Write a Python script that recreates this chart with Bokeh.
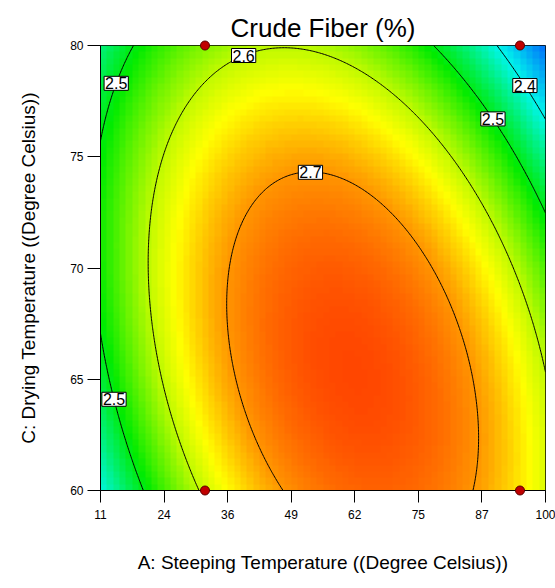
import numpy as np
from bokeh.plotting import figure
from bokeh.models import LinearColorMapper, FixedTicker
from bokeh.core.properties import value
from bokeh.embed import file_html
from bokeh.resources import INLINE

# Factor ranges in actual units
a_low, a_high = 11.0, 100.0   # A: Steeping Temperature
c_low, c_high = 60.0, 80.0    # C: Drying Temperature

x_tick_labels = ["11", "24", "36", "49", "62", "75", "87", "100"]
y_tick_values = [60, 65, 70, 75, 80]

# Quadratic response model for Crude Fiber (%), coded factors in [-1, 1]
b0 = 2.7445
bA = 0.015
bC = -0.0675
bAA = -0.215
bCC = -0.086
bAC = -0.0913

contour_levels = [2.4, 2.5, 2.6, 2.7]

# Design points
design_A = [31.9, 31.9, 94.9, 94.9]
design_C = [60.0, 80.0, 60.0, 80.0]

# Contour labels: level, drying temperature where it sits, branch (-1 left, +1 right, 0 apex)
label_levels = [2.5, 2.6, 2.7, 2.5, 2.5, 2.4]
label_anchor_C = [78.3, 79.55, 74.3, 64.1, 76.7, 78.2]
label_branch = [-1, -1, 0, -1, 1, 1]


def code_a(a):
    return (np.asarray(a) - (a_low + a_high) / 2) / ((a_high - a_low) / 2)


def code_c(c):
    return (np.asarray(c) - (c_low + c_high) / 2) / ((c_high - c_low) / 2)


def uncode_a(u):
    return u * (a_high - a_low) / 2 + (a_low + a_high) / 2


def response(u, v):
    return b0 + bA * u + bC * v + bAA * u * u + bCC * v * v + bAC * u * v


# Colour scale: blue -> cyan -> green -> yellow -> orange-red
stops = [
    (2.28, (0, 80, 255)),
    (2.40, (0, 245, 235)),
    (2.51, (0, 235, 0)),
    (2.60, (190, 250, 0)),
    (2.64, (255, 255, 0)),
    (2.70, (255, 150, 0)),
    (2.77, (255, 60, 0)),
]
s_vals = np.array([s[0] for s in stops])
s_rgb = np.array([s[1] for s in stops], dtype=float)
pal_vals = np.linspace(s_vals[0], s_vals[-1], 256)
palette = []
for v in pal_vals:
    r = np.interp(v, s_vals, s_rgb[:, 0])
    g = np.interp(v, s_vals, s_rgb[:, 1])
    b = np.interp(v, s_vals, s_rgb[:, 2])
    palette.append("#%02x%02x%02x" % (int(round(r)), int(round(g)), int(round(b))))
mapper = LinearColorMapper(palette=palette, low=s_vals[0], high=s_vals[-1])

p = figure(
    width=555, height=588,
    x_range=(a_low, a_high), y_range=(c_low, c_high),
    output_backend="svg", toolbar_location=None,
    min_border_left=100, min_border_right=10,
    min_border_top=45, min_border_bottom=98,
)
p.background_fill_color = "white"
p.border_fill_color = "white"
p.outline_line_color = "black"
p.outline_line_width = 1
p.grid.visible = False

# Shaded response surface (coarse cells)
n_cells = 70
centres = np.linspace(-1, 1, 2 * n_cells + 1)[1::2]
U, V = np.meshgrid(centres, centres)
Z = response(U, V)
p.image(image=[Z], x=a_low, y=c_low, dw=a_high - a_low, dh=c_high - c_low,
        color_mapper=mapper)

# Contour lines on a fine grid
xs = np.linspace(a_low, a_high, 301)
ys = np.linspace(c_low, c_high, 301)
X, Y = np.meshgrid(xs, ys)
Zf = response(code_a(X), code_c(Y))
p.contour(xs, ys, Zf, levels=contour_levels, line_color="black", line_width=1)

# Contour labels placed on their lines
lx, ly, lt = [], [], []
for lev, cy, br in zip(label_levels, label_anchor_C, label_branch):
    v = code_c(cy)
    qa = bAA
    qb = bA + bAC * v
    qc = b0 + bC * v + bCC * v * v - lev
    if br == 0:
        u = -qb / (2 * qa)
    else:
        disc = max(qb * qb - 4 * qa * qc, 0.0)
        r1 = (-qb + np.sqrt(disc)) / (2 * qa)
        r2 = (-qb - np.sqrt(disc)) / (2 * qa)
        u = min(r1, r2) if br < 0 else max(r1, r2)
    lx.append(float(uncode_a(u)))
    ly.append(cy)
    lt.append(f"{lev:.1f}")
p.text(x=lx, y=ly, text=lt, text_align="center", text_baseline="middle",
       text_font=value("Liberation Sans"), text_font_size="16px", text_color="black",
       background_fill_color="white", border_line_color="black", border_line_width=1,
       padding=1)

# Design points
pts = p.scatter(x=design_A, y=design_C, size=9, fill_color="#c00000",
                line_color="#5a0000", line_width=1)
pts.level = "overlay"

# Axes
x_tick_pos = list(np.linspace(a_low, a_high, len(x_tick_labels)))
p.xaxis.ticker = FixedTicker(ticks=x_tick_pos)
p.xaxis.major_label_overrides = {float(t): s for t, s in zip(x_tick_pos, x_tick_labels)}
p.yaxis.ticker = FixedTicker(ticks=y_tick_values)
p.xaxis.axis_label = "A: Steeping Temperature ((Degree Celsius))"
p.yaxis.axis_label = "C: Drying Temperature ((Degree Celsius))"
for ax in (p.xaxis[0], p.yaxis[0]):
    ax.minor_tick_line_color = None
    ax.major_tick_in = 0
    ax.major_tick_line_color = "black"
    ax.axis_line_color = "black"
    ax.major_label_text_font = "Liberation Sans"
    ax.major_label_text_font_size = "12px"
    ax.major_label_text_color = "black"
    ax.axis_label_text_font = "Liberation Sans"
    ax.axis_label_text_font_size = "19px"
    ax.axis_label_text_font_style = "normal"
    ax.axis_label_text_color = "black"
p.xaxis.major_tick_out = 12
p.yaxis.major_tick_out = 13
p.xaxis.major_label_standoff = 7
p.yaxis.major_label_standoff = 4
p.xaxis.axis_label_standoff = 30
p.yaxis.axis_label_standoff = 28

p.title.text = "Crude Fiber (%)"
p.title.align = "center"
p.title.text_font = "Liberation Sans"
p.title.text_font_size = "26px"
p.title.text_font_style = "normal"
p.title.text_color = "black"
p.title.standoff = 6

open("out.html", "w").write(file_html(p, INLINE))
